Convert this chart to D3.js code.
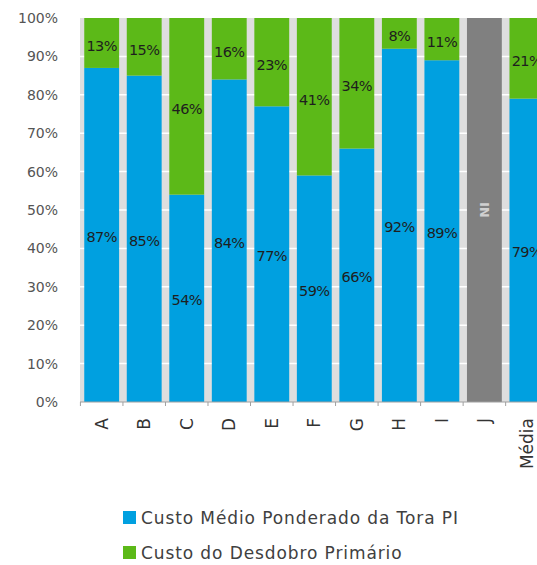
<!DOCTYPE html>
<html><head><meta charset="utf-8">
<script src="https://cdn.jsdelivr.net/npm/d3@7"></script>
<style>
html,body{margin:0;padding:0;background:#fff;}
svg{display:block;font-family:"DejaVu Sans",sans-serif;}
</style></head>
<body><svg id="c" width="537" height="565"></svg>
<script>
const categories = ["A","B","C","D","E","F","G","H","I","J","Média"];
const toraValues = [87,85,54,84,77,59,66,92,89,null,79];
const desdobroValues = [13,15,46,16,23,41,34,8,11,null,21];
const yTicks = [0,10,20,30,40,50,60,70,80,90,100];
const seriesNames = ["Custo Médio Ponderado da Tora PI","Custo do Desdobro Primário"];
const naLabel = "NI";

const colors = {tora:"#00a0e0", desd:"#5cb918", na:"#808080", bg:"#dedede", grid:"#ffffff", text:"#404040", label:"#1e1e1e"};

const svg = d3.select("#c");
const x = d3.scaleBand().domain(categories).range([80, 548.6]).paddingInner(0.18).paddingOuter(0.1);
const y = d3.scaleLinear().domain([0,100]).range([402, 18]);

// background
svg.append("rect").attr("x",80).attr("y",y(100)).attr("width",470).attr("height",y(0)-y(100)).attr("fill",colors.bg);
// grid
svg.append("g").selectAll("line").data(yTicks.filter(d=>d>0&&d<100)).join("line")
  .attr("x1",80).attr("x2",550).attr("y1",d=>y(d)).attr("y2",d=>y(d))
  .attr("stroke",colors.grid).attr("stroke-width",1.5);

const data = categories.map((c,i)=>({c, a:toraValues[i], b:desdobroValues[i]}));

const g = svg.append("g");
data.forEach(d=>{
  const bx = x(d.c), bw = x.bandwidth();
  if (d.a == null) {
    g.append("rect").attr("x",bx).attr("y",y(100)).attr("width",bw).attr("height",y(0)-y(100)).attr("fill",colors.na);
    g.append("text").attr("transform",`translate(${bx+bw/2},${y(50)}) rotate(-90)`)
      .attr("text-anchor","middle").attr("dy","0.35em").attr("fill","#d0d0d0").attr("font-weight","bold").attr("font-size",13).text(naLabel);
    return;
  }
  g.append("rect").attr("x",bx).attr("y",y(d.a)).attr("width",bw).attr("height",y(0)-y(d.a)).attr("fill",colors.tora);
  g.append("rect").attr("x",bx).attr("y",y(d.a+d.b)).attr("width",bw).attr("height",y(d.a)-y(d.a+d.b)).attr("fill",colors.desd);
  g.append("text").attr("x",bx+bw/2).attr("y",(y(0)+y(d.a))/2+2).attr("dy","0.35em").attr("text-anchor","middle")
    .attr("font-size",14.5).attr("fill",colors.label).attr("letter-spacing","-0.6").text(d.a+"%");
  g.append("text").attr("x",bx+bw/2).attr("y",(y(d.a)+y(d.a+d.b))/2+3).attr("dy","0.35em").attr("text-anchor","middle")
    .attr("font-size",14.5).attr("fill",colors.label).attr("letter-spacing","-0.6").text(d.b+"%");
});

// y axis labels
const yAxis = d3.axisLeft(y).tickValues(yTicks).tickFormat(d=>d+"%").tickSize(0).tickPadding(0);
const ya = svg.append("g").attr("transform","translate(58,0)").call(yAxis);
ya.select(".domain").remove();
ya.selectAll("text").attr("font-size",14).attr("fill","#555").attr("font-family","DejaVu Sans, sans-serif");

// x axis
const xa = svg.append("g").attr("transform",`translate(0,${y(0)})`)
  .call(d3.axisBottom(x).tickSize(0).tickPadding(0));
xa.select(".domain").attr("stroke","#a0a0a0").attr("d","M80,0H550");
xa.selectAll("text").attr("font-size",17).attr("fill","#333").attr("font-family","DejaVu Sans, sans-serif")
  .attr("transform","rotate(-90)").attr("text-anchor","end").attr("x",-16).attr("y",0).attr("dy","0.35em");
const step = x.step();
const bounds = categories.map(c=>x(c)-step*x.paddingInner()/2);
bounds.push(x(categories[categories.length-1])+x.bandwidth()+step*x.paddingInner()/2);
xa.append("g").selectAll("line").data(bounds).join("line")
  .attr("x1",d=>d).attr("x2",d=>d).attr("y1",0).attr("y2",4).attr("stroke","#a0a0a0");

// legend
const leg = svg.append("g");
[[colors.tora, seriesNames[0], 517],[colors.desd, seriesNames[1], 552]].forEach(([col,name,cy])=>{
  leg.append("rect").attr("x",123).attr("y",cy-6).attr("width",13).attr("height",13).attr("fill",col);
  leg.append("text").attr("x",141).attr("y",cy+1).attr("dy","0.35em").attr("font-size",17).attr("letter-spacing","0.9").attr("fill",colors.text).text(name);
});
</script></body></html>
